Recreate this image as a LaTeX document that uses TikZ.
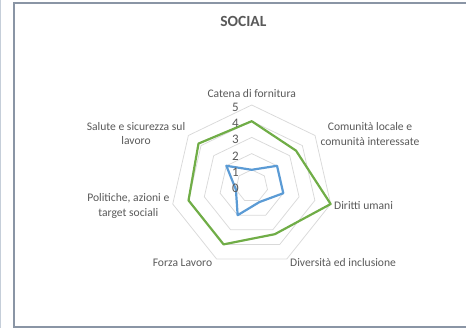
\documentclass[tikz,border=0pt]{standalone}
\usepackage{fontspec}
\setmainfont{Carlito}
\definecolor{txt}{HTML}{595959}
\definecolor{gridc}{HTML}{D9D9D9}
\definecolor{sgreen}{HTML}{70AD47}
\definecolor{sblue}{HTML}{5B9BD5}
\definecolor{framec}{HTML}{8A95A5}
\definecolor{edgec}{HTML}{C5CED9}
\newcommand\radpt[2]{({251.7+16.2*#2*sin(#1*360/7)},{186-16.2*#2*cos(#1*360/7)})}
\tikzset{
  gridline/.style={draw=gridc,line width=0.75pt},
  series/.style={line width=2.2pt,line join=round},
  lbl/.style={font=\fontsize{11.6}{14.6}\selectfont,text=txt,inner sep=0pt,align=center},
  tick/.style={font=\fontsize{13}{14}\selectfont,text=txt,inner sep=0pt,anchor=east}
}
\begin{document}
\begin{tikzpicture}[x=1pt,y=-1pt]
\useasboundingbox (0,0) rectangle (466,328);
% frame
\draw[edgec,line width=1pt] (0.6,0) -- (0.6,328);
\draw[framec,line width=1.4pt] (470,3) -- (14,3) -- (14,327.2) -- (470,327.2);
% title
\node[font=\fontsize{15.5}{16}\selectfont\bfseries,text=txt,inner sep=0pt] (title) at (243.3,21) {SOCIAL};
% grid rings
\coordinate (C) at (251.7,186);
\foreach \r in {1,...,5}{
  \draw[gridline] \radpt{0}{\r} \foreach \k in {1,...,6}{ -- \radpt{\k}{\r} } -- cycle;
}
\foreach \k in {0,...,6}{
  \coordinate (s\k) at \radpt{\k}{5};
  \draw[gridline] (C) -- (s\k);
}
% series
\draw[series,sgreen] \radpt{0}{4} -- \radpt{1}{3.5} -- \radpt{2}{5} -- \radpt{3}{3.3} -- \radpt{4}{4} -- \radpt{5}{4} -- \radpt{6}{4.2} -- cycle;
\draw[series,sblue] \radpt{0}{1} -- \radpt{1}{2} -- \radpt{2}{2} -- \radpt{3}{1.1} -- \radpt{4}{2} -- \radpt{5}{1} -- \radpt{6}{2} -- cycle;
% tick labels
\foreach \v in {0,...,5}{
  \node[tick] (t\v) at (239,{186-16.2*\v+2.2}) {\v};
}
% axis labels
\node[lbl] (l0) at (251.7,94) {Catena di fornitura};
\node[lbl] (l1) at (370,134.2) {Comunità locale e\\comunità interessate};
\node[lbl,anchor=west] (l2) at (334,205.5) {Diritti umani};
\node[lbl,anchor=west] (l3) at (290,263) {Diversità ed inclusione};
\node[lbl] (l4) at (182.5,263) {Forza Lavoro};
\node[lbl] (l5) at (128.3,205.7) {Politiche, azioni e\\target sociali};
\node[lbl] (l6) at (136,133.6) {Salute e sicurezza sul\\lavoro};
\end{tikzpicture}
\end{document}
